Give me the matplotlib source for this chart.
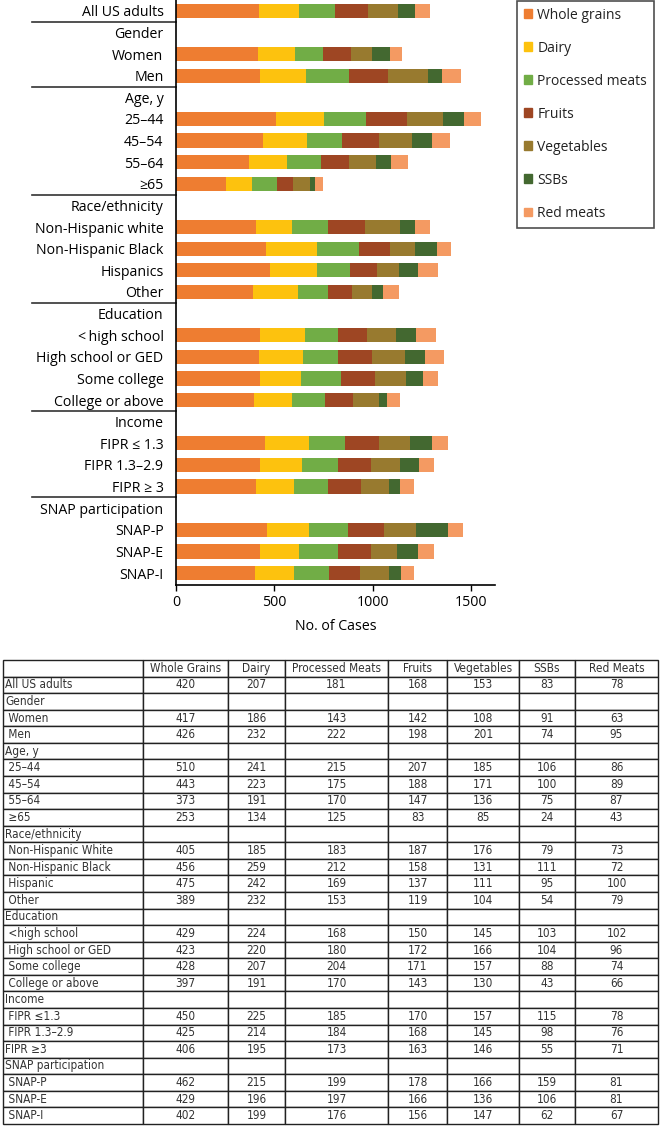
import numpy as np
import matplotlib
matplotlib.use('Agg')
import matplotlib.pyplot as plt
import matplotlib.patches as mpatches
import matplotlib.transforms as mtrans

# Rows of the chart (header rows have no bar)
chart_labels = ['All US adults', 'Gender', 'Women', 'Men', 'Age, y', '25\u201344', '45\u201354',
                '55\u201364', '\u226565', 'Race/ethnicity', 'Non-Hispanic white', 'Non-Hispanic Black',
                'Hispanics', 'Other', 'Education', '<\u2009high school', 'High school or GED',
                'Some college', 'College or above', 'Income', 'FIPR \u2264 1.3', 'FIPR 1.3\u20132.9',
                'FIPR \u2265 3', 'SNAP participation', 'SNAP-P', 'SNAP-E', 'SNAP-I']
header_rows = ['Gender', 'Age, y', 'Race/ethnicity', 'Education', 'Income', 'SNAP participation']

table_labels = ['All US adults', 'Gender', ' Women', ' Men', 'Age, y', ' 25\u201344', ' 45\u201354',
                ' 55\u201364', ' \u226565', 'Race/ethnicity', ' Non-Hispanic White', ' Non-Hispanic Black',
                ' Hispanic', ' Other', 'Education', ' <high school', ' High school or GED',
                ' Some college', ' College or above', 'Income', ' FIPR \u22641.3', ' FIPR 1.3\u20132.9',
                'FIPR \u22653', 'SNAP participation', ' SNAP-P', ' SNAP-E', ' SNAP-I']

categories = ['Whole grains', 'Dairy', 'Processed meats', 'Fruits', 'Vegetables', 'SSBs', 'Red meats']
table_cols = ['Whole Grains', 'Dairy', 'Processed Meats', 'Fruits', 'Vegetables', 'SSBs', 'Red Meats']
colors = ['#EE7D31', '#FDC20E', '#71AD46', '#9E4623', '#987A2F', '#436830', '#F49A62']

# values for the 21 data rows, in order
whole_grains = [420, 417, 426, 510, 443, 373, 253, 405, 456, 475, 389, 429, 423, 428, 397, 450, 425, 406, 462, 429, 402]
dairy = [207, 186, 232, 241, 223, 191, 134, 185, 259, 242, 232, 224, 220, 207, 191, 225, 214, 195, 215, 196, 199]
processed_meats = [181, 143, 222, 215, 175, 170, 125, 183, 212, 169, 153, 168, 180, 204, 170, 185, 184, 173, 199, 197, 176]
fruits = [168, 142, 198, 207, 188, 147, 83, 187, 158, 137, 119, 150, 172, 171, 143, 170, 168, 163, 178, 166, 156]
vegetables = [153, 108, 201, 185, 171, 136, 85, 176, 131, 111, 104, 145, 166, 157, 130, 157, 145, 146, 166, 136, 147]
ssbs = [83, 91, 74, 106, 100, 75, 24, 79, 111, 95, 54, 103, 104, 88, 43, 115, 98, 55, 159, 106, 62]
red_meats = [78, 63, 95, 86, 89, 87, 43, 73, 72, 100, 79, 102, 96, 74, 66, 78, 76, 71, 81, 81, 67]

series = [whole_grains, dairy, processed_meats, fruits, vegetables, ssbs, red_meats]

plt.rcParams['font.family'] = ['Open Sans', 'DejaVu Sans']
plt.rcParams['text.color'] = '#222222'

fig = plt.figure(figsize=(6.61, 11.26), dpi=100)
ax = fig.add_axes([176 / 661, 1 - 585 / 1126, 319 / 661, 585 / 1126])

y_all = np.arange(len(chart_labels))
y_data = np.array([i for i, l in enumerate(chart_labels) if l not in header_rows])

left = np.zeros(len(y_data))
for vals, name, c in zip(series, categories, colors):
    vals = np.array(vals)
    ax.barh(y_data, vals, left=left, height=0.66, color=c, label=name)
    left += vals

ax.set_ylim(len(chart_labels) - 0.45, -0.5)
ax.set_xlim(0, 1620)
ax.set_yticks(y_all)
ax.set_yticklabels(chart_labels, fontsize=10.2)
ax.tick_params(axis='y', length=0, pad=9)
ax.set_xticks([0, 500, 1000, 1500])
ax.tick_params(axis='x', labelsize=10.2, length=4, width=1)
ax.set_xlabel('No. of Cases', fontsize=10.2, labelpad=6)
ax.spines['top'].set_visible(False)
ax.spines['right'].set_visible(False)
ax.spines['left'].set_linewidth(1.2)
ax.spines['bottom'].set_linewidth(1.2)

# group separators in the label area
trans = mtrans.blended_transform_factory(ax.transAxes, ax.transData)
for h in header_rows:
    yy = chart_labels.index(h) - 0.5
    ax.plot([-0.452, 0], [yy, yy], transform=trans, color='#333333', lw=1.2, clip_on=False)

handles = [mpatches.Patch(color=c) for c in colors]
leg = fig.legend(handles, categories, loc='upper left', bbox_to_anchor=(517 / 661, 0.9995),
                 fancybox=False, edgecolor='#222222', fontsize=10, handlelength=0.6,
                 handleheight=0.6, handletextpad=0.35, labelspacing=1.3, borderpad=0.5,
                 borderaxespad=0)
leg.get_frame().set_linewidth(1.2)

# table below the chart
tax = fig.add_axes([3 / 661, 2 / 1126, 655 / 661, 464 / 1126])
tax.axis('off')
widths = np.array([140, 85, 57, 103, 59, 72, 56, 83], dtype=float)
cell_text = []
k = 0
for lab in chart_labels:
    if lab in header_rows:
        cell_text.append([''] * 7)
    else:
        cell_text.append([str(s[k]) for s in series])
        k += 1
rows = [[tl] + r for tl, r in zip(table_labels, cell_text)]
tbl = tax.table(cellText=rows, colLabels=[''] + table_cols, colWidths=list(widths / widths.sum()),
                cellLoc='center', bbox=[0, 0, 1, 1])
tbl.auto_set_font_size(False)
for (r, c), cell in tbl.get_celld().items():
    cell.set_edgecolor('#222222')
    cell.set_linewidth(1.0)
    cell.PAD = 0.015
    t = cell.get_text()
    t.set_fontsize(8.5)
    t.set_fontfamily('DejaVu Sans')
    t.set_fontstretch('condensed')
    t.set_color('#333333')
    if c == 0:
        cell._loc = 'left'
        t.set_horizontalalignment('left')

fig.savefig('out.png', dpi=100)
